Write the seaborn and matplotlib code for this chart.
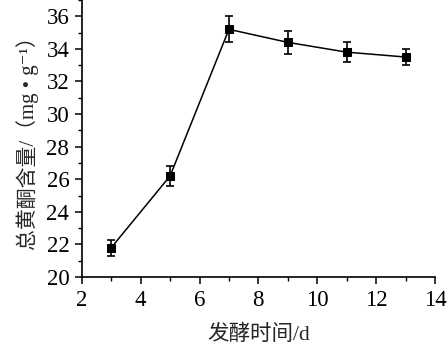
import matplotlib
matplotlib.use('Agg')
import matplotlib.pyplot as plt
import seaborn as sns
import pandas as pd
from matplotlib.ticker import MultipleLocator

# fermentation time (d) vs total flavonoid content
days = [3, 5, 7, 9, 11, 13]
flavonoid = [21.8, 26.2, 35.2, 34.4, 33.8, 33.5]
err = [0.5, 0.6, 0.8, 0.7, 0.6, 0.5]

df = pd.DataFrame({'day': days, 'flav': flavonoid, 'err': err})

sns.set_style('ticks')
plt.rcParams['font.family'] = ['Liberation Serif', 'Noto Sans CJK SC', 'DejaVu Sans']

fig = plt.figure(figsize=(4.47, 3.54), dpi=100)
ax = fig.add_axes([0.183, 0.2175, 0.79, 0.7825])

ax.errorbar(df.day, df.flav, yerr=df.err, fmt='none', ecolor='black',
            elinewidth=1.2, capsize=3, capthick=1.2, zorder=2)
sns.lineplot(data=df, x='day', y='flav', ax=ax, color='black', linewidth=1.1,
             marker='s', markersize=6, markeredgecolor='black', zorder=3)

ax.set_xlim(2, 14)
ax.set_ylim(20, 37)
ax.xaxis.set_major_locator(MultipleLocator(2))
ax.xaxis.set_minor_locator(MultipleLocator(1))
ax.yaxis.set_major_locator(MultipleLocator(2))
ax.yaxis.set_minor_locator(MultipleLocator(1))
ax.set_yticks([20, 22, 24, 26, 28, 30, 32, 34, 36])

sns.despine(ax=ax)
for s in ['left', 'bottom']:
    ax.spines[s].set_linewidth(1.2)
    ax.spines[s].set_color('black')
ax.tick_params(which='major', direction='out', length=5, width=1.1, labelsize=16.5,
               colors='black', pad=4)
ax.tick_params(which='minor', direction='out', length=3, width=1.0, colors='black')

ax.set_xlabel('发酵时间/d', fontsize=15.5, labelpad=10)
ax.set_ylabel('总黄酮含量/（mg • g⁻¹）', fontsize=15, labelpad=5)

fig.savefig('out.png', dpi=100)
